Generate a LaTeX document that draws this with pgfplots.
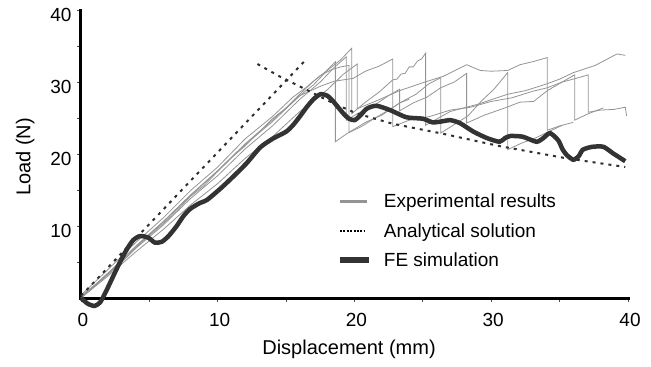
\documentclass[border=0pt]{standalone}
\usepackage{fontspec}
\setmainfont{Liberation Sans}
\usepackage{pgfplots}
\pgfplotsset{compat=1.18}

\definecolor{expgray}{gray}{0.58}
\definecolor{fedark}{gray}{0.2}
\definecolor{anadark}{gray}{0.18}

\begin{document}
\begin{tikzpicture}
\path[use as bounding box] (-81bp,-69bp) rectangle (570bp,298bp);
\begin{axis}[
  scale only axis, width=547bp, height=288bp,
  xmin=0, xmax=40, ymin=0, ymax=40,
  axis x line=bottom, axis y line=left,
  axis line style={line width=3bp, -, line cap=rect},
  xtick={0,10,...,40}, ytick={10,20,30,40},
  minor xtick={5,15,25,35}, minor ytick={5,15,25,35},
  tick align=outside, major tick length=4bp, minor tick length=4bp,
  every tick/.style={line width=0.8bp, black!70},
  clip=false,
  /pgf/number format/assume math mode=true,
  every tick label/.append style={font=\fontsize{19bp}{23bp}\selectfont},
  xticklabel style={yshift=-8bp, xshift=2bp},
  yticklabel style={yshift=-5bp, xshift=-2bp},
  xlabel={Displacement (mm)}, ylabel={Load (N)},
  every axis x label/.style={at={(axis description cs:0.49,-0.177)}, anchor=center,
    font=\fontsize{20bp}{24bp}\selectfont},
  every axis y label/.style={at={(axis description cs:-0.102,0.49)}, rotate=90, anchor=center,
    font=\fontsize{20bp}{24bp}\selectfont},
  legend style={draw=none, fill=none, at={(0.462,0.375)}, anchor=north west,
    font=\fontsize{19bp}{23bp}\selectfont, row sep=10bp,
    /tikz/every odd column/.append style={column sep=10bp}},
  legend cell align=left,
]
% legend entries
\addlegendimage{legend image code/.code={\draw[expgray, line width=3bp] (0bp,0bp) -- (27bp,0bp);}}
\addlegendentry{Experimental results}
\addlegendimage{legend image code/.code={\draw[black, line width=2bp, dash pattern=on 2bp off 1.4bp] (0bp,0bp) -- (25bp,0bp);}}
\addlegendentry{Analytical solution}
\addlegendimage{legend image code/.code={\draw[fedark, line width=6bp] (0bp,0bp) -- (29bp,0bp);}}
\addlegendentry{FE simulation}

% experimental load-displacement records
\addplot[expgray, line width=0.8bp, forget plot] coordinates {
(0,0.3) (1,1.8) (2,3.5) (3,5.0) (4,6.9) (5,8.7) (6,10.3) (7,12.1) (8,14.1) (9,15.6)
(10,17.6) (11,19.5) (12,21.1) (13,23.0) (14,24.9) (15,26.4) (16,28.3) (17,30.1) (17.8,31.3) (18.6,32.8)
(18.6,21.7) (19.5,22.9) (20.5,23.8) (21.5,25.0) (22.5,26.1) (23.5,27.3) (24.5,28.3) (25.4,29.7) (26.3,30.6)
(26.3,22.9) (27.3,24.1) (28.3,25.3) (29.3,27.4) (30.2,29.0) (31.2,31.3)
(31.2,20.6) (32.2,21.5) (33.2,22.2) (34.2,23.1) (35.2,24.0)};
\addplot[expgray, line width=0.8bp, forget plot] coordinates {
(0,0) (2,3.4) (4,7.1) (6,10.5) (8,14.2) (10,17.6) (12,21.3) (14,24.5) (16,28.1) (17,29.6) (18,31.6) (19,33.1) (19.8,34.7)
(19.8,25.6) (20.8,27.2) (21.8,28.6) (22.8,30.3) (23.1,30.4) (23.4,31.1) (23.7,31.2) (24.0,32.1) (24.3,32.1) (24.6,32.9) (24.9,33.2) (25.2,34.0)
(25.2,24.0) (27,25.9) (29,26.9) (31.2,28.3) (32.5,28.8) (34,29.7) (35,30.4) (36,31.3) (37.6,32.3) (39.2,33.9) (39.8,33.7)};
\addplot[expgray, line width=0.8bp, forget plot] coordinates {
(0,0) (2,3.3) (4,6.9) (6,10.1) (8,13.8) (10,17.0) (12,20.7) (14,23.9) (16,27.6) (17.5,30.0) (18.5,32.0) (19.4,33.5)
(19.4,24.7) (20.4,25.8) (21.4,26.7) (22.4,28.0) (23.3,29.0)
(23.3,26.0) (24.3,27.1) (25.3,27.9) (26.3,29.2) (27.3,30.0) (28.2,31.2)
(28.2,24.3) (29.5,25.4) (31,26.4) (32.1,27.2) (33.1,27.3) (34.1,28.8) (35.1,29.9) (36.1,31.0)
(36.1,24.7) (37.1,25.6) (38.2,26.4)};
\addplot[expgray, line width=0.8bp, forget plot] coordinates {
(0,0) (2,3.1) (4,6.4) (6,9.5) (8,12.9) (10,15.9) (12,19.4) (14,22.4) (16,25.9) (18,28.9) (19.2,31.1) (20.2,32.5)
(20.2,26.3) (21.5,27.3) (23.3,28.8) (25,29.9) (26.5,30.8) (28.2,32.4) (29.2,31.6) (30.0,31.5) (31.2,31.6)
(32.1,32.4) (33.2,32.9) (34.1,33.4) (34.1,23.3) (35.0,23.9) (36.0,24.4)};
\addplot[expgray, line width=0.8bp, forget plot] coordinates {
(0,0) (2,3.5) (4,7.2) (6,10.6) (8,14.3) (10,17.7) (12,21.4) (14,24.7) (16,28.1) (17.5,29.4) (18.5,30.1) (19.9,30.5)
(20.8,31.5) (21.8,32.2) (22.8,33.2) (22.8,23.8) (24,24.7) (25.5,25.2) (27,26.1) (28.5,26.5) (30,27.3)
(31.5,27.8) (33,28.7) (34.1,29.2) (35.2,30.0) (36.2,30.5) (37.1,31.0)
(37.1,25.8) (38,26.1) (39,26.2) (39.8,26.5) (39.9,25.3)};
\addplot[expgray, line width=0.8bp, forget plot] coordinates {
(0,0.4) (2,4.0) (4,7.7) (6,11.1) (8,14.9) (10,18.2) (12,22.1) (14,25.2) (15.5,27.9) (16.5,29.3)
(17.5,30.9) (18.3,31.7) (19.0,32.1) (19.6,32.3) (19.6,23.0) (20.8,24.4) (22,25.4) (23.3,27.1) (24,27.6)};

% analytical solution
\addplot[anadark, line width=2bp, dash pattern=on 3bp off 5bp, forget plot] coordinates {
(0,0.3) (16.5,33.2)};
\addplot[anadark, line width=2bp, dash pattern=on 3bp off 5bp, forget plot] coordinates {
(12.9,32.5) (14.5,30.8) (16.5,28.9) (18.5,27.0) (20.2,25.6) (22.8,24.2) (26.5,22.8) (30.6,21.1) (35.5,19.4) (39.8,18.2)};

% finite element simulation
\addplot[fedark, line width=4.5bp, smooth, tension=0.4, forget plot] coordinates {
(0,0) (0.5,-0.8) (1.0,-1.1) (1.4,-0.6) (1.8,0.8) (2.3,2.8) (2.8,4.8) (3.3,6.6) (3.8,8.0) (4.3,8.6)
(4.9,8.4) (5.4,7.7) (5.9,7.8) (6.4,8.6) (7.0,10.0) (7.5,11.4) (8.0,12.4) (8.7,13.2) (9.2,13.6)
(10.2,15.2) (11.1,16.8) (12.1,18.7) (13.1,20.9) (14.0,22.1) (15.0,23.1) (15.5,24.0) (16.0,25.2)
(16.5,26.5) (17.0,27.6) (17.5,28.3) (18.0,28.1) (18.4,27.4) (18.8,26.5) (19.2,25.6) (19.6,24.9)
(20.0,24.7) (20.4,25.3) (20.9,26.3) (21.6,26.7) (22.6,26.1) (23.8,25.1) (25.0,24.9) (25.7,24.4)
(26.3,24.5) (27.0,24.7) (27.7,24.3) (28.7,23.1) (29.7,22.2) (30.6,21.7) (31.0,22.2) (31.4,22.5)
(32.3,22.4) (33.3,21.7) (33.8,22.2) (34.3,22.9) (34.9,21.9) (35.2,20.7) (35.5,19.9) (36.0,19.2)
(36.4,19.7) (36.7,20.6) (37.4,21.0) (38.2,21.0) (38.9,20.1) (39.8,19.0)};
\end{axis}
\end{tikzpicture}
\end{document}
